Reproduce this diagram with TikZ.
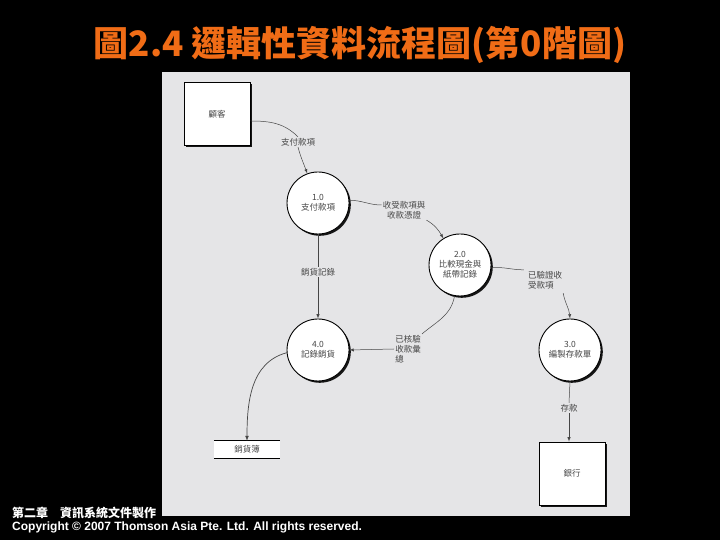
\documentclass[tikz,border=0pt]{standalone}
\usepackage{fontspec}
\setmainfont{Liberation Sans}
\newfontfamily\cjk{Noto Sans CJK TC}
\usetikzlibrary{shadows}
\tikzset{>=latex}
\definecolor{panelgray}{RGB}{229,229,231}
\definecolor{titleorange}{RGB}{240,108,22}
\definecolor{inkgray}{RGB}{70,70,70}
\tikzset{
  heading/.style={font=\cjk\bfseries\fontsize{35}{40}\selectfont,text=titleorange},
  proc/.style={circle,draw=black,line width=0.9pt,fill=white,minimum size=62pt,inner sep=0pt,align=center,
    font=\cjk\fontsize{8.5}{10}\selectfont,text=inkgray,
    drop shadow={shadow xshift=1.8pt,shadow yshift=-1.8pt,fill=black,opacity=0.9}},
  ent/.style={rectangle,draw=black,line width=0.9pt,fill=white,minimum width=66pt,minimum height=63pt,
    font=\cjk\fontsize{8.5}{10}\selectfont,text=inkgray,
    drop shadow={shadow xshift=2pt,shadow yshift=-2pt,fill=black,opacity=0.9}},
  store/.style={fill=white,minimum width=66pt,minimum height=17pt,inner sep=0pt,
    font=\cjk\fontsize{8.5}{10}\selectfont,text=inkgray},
  flowlbl/.style={font=\cjk\fontsize{8.5}{10}\selectfont,text=inkgray,inner sep=1pt},
  flow/.style={draw=inkgray,line width=0.5pt},
  foot/.style={text=white,inner sep=0pt,anchor=west}
}
\begin{document}
\begin{tikzpicture}[x=1pt,y=1pt]
	\useasboundingbox (0,0) rectangle (720,540);
	\fill[black] (0,0) rectangle (720,540);
	\fill[panelgray] (162,24) rectangle (630,468);
	\node[heading] (title) at (360,495) {圖2.4 邏輯性資料流程圖(第0階圖)};
	\node[ent] (cust) at (217,426) {顧客};
	\node[proc] (p1) at (318,337) {1.0\\支付款項};
	\node[proc] (p2) at (460,275) {2.0\\比較現金與\\紙帶記錄};
	\node[proc] (p3) at (570,190) {3.0\\編製存款單};
	\node[proc] (p4) at (318,190) {4.0\\記錄銷貨};
	\node[ent] (bank) at (572,66.5) {銀行};
	\node[store] (ledger) at (247,90.5) {銷貨簿};
	\draw[line width=0.8pt] (ledger.north west) -- (ledger.north east);
	\draw[line width=1.3pt] (ledger.south west) -- (ledger.south east);
	\node[flowlbl] (l1) at (298,398) {支付款項};
	\node[flowlbl,align=center] (l2) at (404,330) {收受款項與\\收款憑證};
	\node[flowlbl] (l3) at (318,268) {銷貨記錄};
	\node[flowlbl,align=left] (l4) at (545,260) {已驗證收\\受款項};
	\node[flowlbl,align=left] (l5) at (408,191) {已核驗\\收款彙\\總};
	\node[flowlbl] (l6) at (569,132) {存款};
	\draw[flow] ([yshift=-7pt]cust.east) to[out=0,in=135] (l1.north);
	\draw[flow,->] (l1.south) to[out=-75,in=110] (p1.110);
	\draw[flow] (p1.5) to[out=0,in=180] ([yshift=5pt]l2.west);
	\draw[flow,->] (l2.south east) to[out=-30,in=120] (p2.122);
	\draw[flow] (p1.south) -- (l3.north);
	\draw[flow,->] (l3.south) -- (p4.north);
	\draw[flow] (p2.-5) to[out=5,in=180] ([xshift=-3pt]l4.north west);
	\draw[flow,->] ([yshift=-3pt]l4.south east) to[out=-80,in=95] (p3.north);
	\draw[flow] (p2.-100) to[out=-100,in=40] (l5.north east);
	\draw[flow,->] (l5.west) -- (p4.east);
	\draw[flow,->,line width=0.7pt] (p4.185) to[out=195,in=90] (ledger.north);
	\draw[flow] (p3.south) -- (l6.north);
	\draw[flow,->] (l6.south) -- (l6.south |- bank.north);
	\node[foot,font=\cjk\bfseries\fontsize{12}{14}\selectfont] (chap) at (12,27) {第二章　資訊系統文件製作};
	\node[foot,font=\bfseries\fontsize{12}{14}\selectfont] (copy) at (12,13) {Copyright © 2007 Thomson Asia Pte. Ltd. All rights reserved.};
\end{tikzpicture}
\end{document}
